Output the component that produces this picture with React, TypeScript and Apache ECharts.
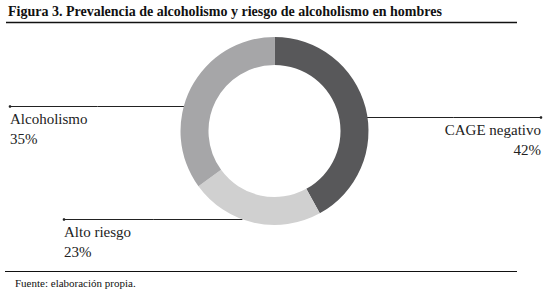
import React, { useEffect, useRef } from "react";
import * as echarts from "echarts";

const TITLE = "Figura 3. Prevalencia de alcoholismo y riesgo de alcoholismo en hombres";
const SOURCE = "Fuente: elaboración propia.";
const categories = ["CAGE negativo", "Alto riesgo", "Alcoholismo"];
const values = [42, 23, 35];
const colors = ["#58585a", "#d0d0d0", "#a6a6a8"];

// label placement (layout only)
const CENTER: [number, number] = [274.5, 131];
const R_IN = 66;
const R_OUT = 94;
const labelLayoutSpec = [
  { lineY: 117, side: 1, endX: 541, textX: 541, align: "right" },
  { lineY: 219, side: -1, endX: 64, textX: 64, align: "left" },
  { lineY: 106, side: -1, endX: 10, textX: 10, align: "left" },
];

const SERIF = "Liberation Serif";

export default function App() {
  const ref = useRef<HTMLDivElement>(null);
  useEffect(() => {
    if (!ref.current) return;
    const chart = echarts.init(ref.current, null, { renderer: "svg" });
    const dots = labelLayoutSpec.map((s) => ({
      type: "circle",
      shape: { cx: s.endX, cy: s.lineY + 0.5, r: 1.3 },
      style: { fill: "#222" },
      z: 10,
    }));
    chart.setOption({
      animation: false,
      backgroundColor: "#ffffff",
      title: [
        {
          text: TITLE,
          left: 8,
          top: 4,
          padding: 0,
          textStyle: { fontFamily: SERIF, fontWeight: "bold", fontSize: 14, color: "#111" },
        },
        {
          text: SOURCE,
          left: 15,
          top: 277,
          padding: 0,
          textStyle: { fontFamily: SERIF, fontWeight: "normal", fontSize: 11, color: "#111" },
        },
      ],
      graphic: [
        {
          type: "line",
          shape: { x1: 6, y1: 22.5, x2: 517, y2: 22.5 },
          style: { stroke: "#111", lineWidth: 1.3 },
        },
        {
          type: "line",
          shape: { x1: 5, y1: 271.5, x2: 517, y2: 271.5 },
          style: { stroke: "#111", lineWidth: 1.2 },
        },
        ...dots,
      ],
      series: [
        {
          type: "pie",
          center: CENTER,
          radius: [R_IN, R_OUT],
          startAngle: 90,
          clockwise: true,
          avoidLabelOverlap: false,
          itemStyle: { borderWidth: 0 },
          emphasis: { disabled: true },
          data: categories.map((c, i) => ({
            name: c,
            value: values[i],
            itemStyle: { color: colors[i] },
          })),
          label: {
            show: true,
            position: "outside",
            formatter: "{b}\n{c}%",
            fontFamily: SERIF,
            fontSize: 15,
            lineHeight: 20,
            color: "#222",
          },
          labelLine: {
            show: true,
            lineStyle: { color: "#222", width: 1 },
          },
          labelLayout: (params: any) => {
            const s = labelLayoutSpec[params.dataIndex];
            const dy = s.lineY - CENTER[1];
            const edgeX = CENTER[0] + s.side * Math.sqrt(R_OUT * R_OUT - dy * dy) - s.side * 1;
            const y = s.lineY + 0.5;
            return {
              x: s.textX,
              y: s.lineY + 3,
              align: s.align,
              verticalAlign: "top",
              labelLinePoints: [
                [edgeX, y],
                [(edgeX + s.endX) / 2, y],
                [s.endX, y],
              ],
            };
          },
        },
      ],
    });
    return () => chart.dispose();
  }, []);
  return (
    <div
      ref={ref}
      style={{ position: "fixed", left: 0, top: 0, width: 555, height: 297 }}
    />
  );
}
